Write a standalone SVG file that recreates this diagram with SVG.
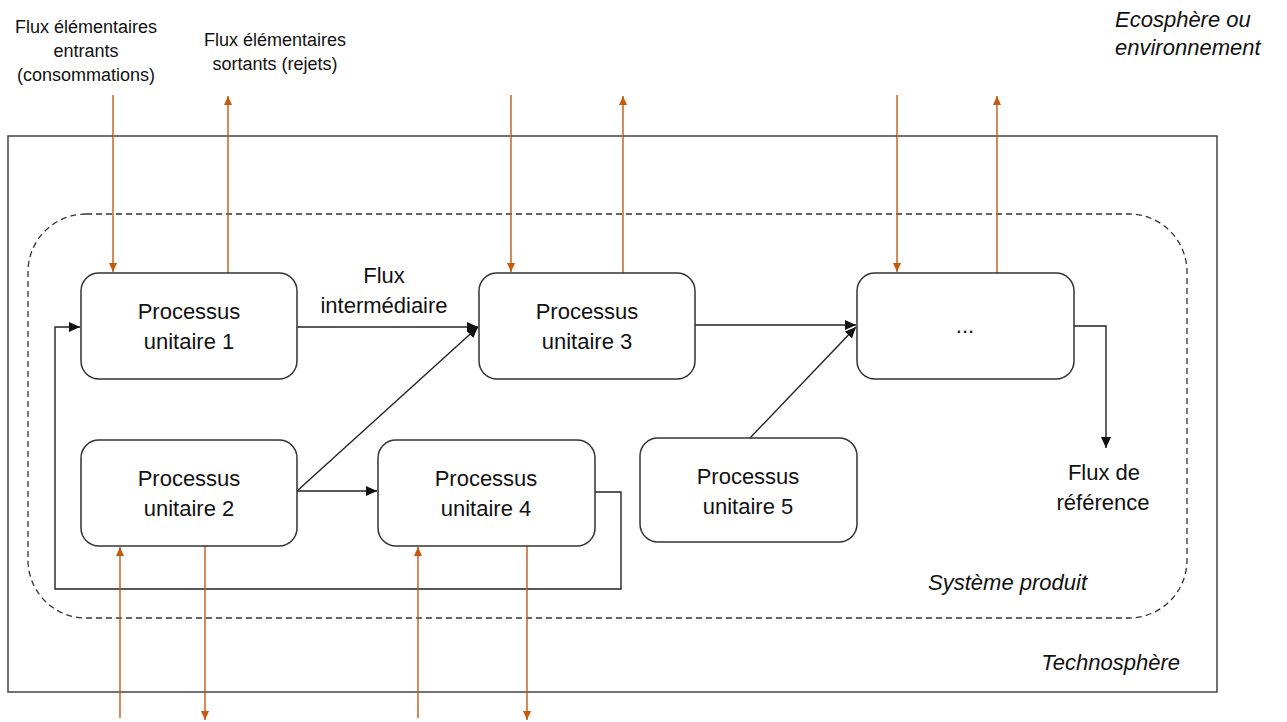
<svg xmlns="http://www.w3.org/2000/svg" width="1287" height="722" viewBox="0 0 1287 722">
<defs>
<style>
.node rect{fill:#fff;stroke:#333;stroke-width:1.5}
.lbl{font-family:"Liberation Sans",Arial,sans-serif;font-size:22px;fill:#111;text-anchor:middle}
.sm{font-family:"Liberation Sans",Arial,sans-serif;font-size:18px;fill:#111;text-anchor:middle}
.it{font-family:"Liberation Sans",Arial,sans-serif;font-size:22px;font-style:italic;fill:#111}
.blk{fill:none;stroke:#222;stroke-width:1.4}
.org{fill:none;stroke:#C55A11;stroke-width:1.4}
</style>
<marker id="ab" markerUnits="userSpaceOnUse" markerWidth="12" markerHeight="10" refX="11" refY="5" orient="auto">
<path d="M0,0 L11,5 L0,10 Z" fill="#111"/>
</marker>
<marker id="ao" markerUnits="userSpaceOnUse" markerWidth="10" markerHeight="8" refX="9" refY="4" orient="auto">
<path d="M0,0 L9,4 L0,8 Z" fill="#C55A11"/>
</marker>
</defs>
<rect width="1287" height="722" fill="#fff"/>
<g id="technosphere">
<rect x="8" y="136" width="1209" height="556" fill="none" stroke="#444" stroke-width="1.5"/>
<text class="it" x="1180" y="670" text-anchor="end">Technosphère</text>
</g>
<g id="systeme-produit">
<rect x="28" y="214" width="1159" height="404" rx="58" ry="58" fill="none" stroke="#333" stroke-width="1.3" stroke-dasharray="6,4"/>
<text class="it" x="1087" y="590" text-anchor="end" font-size="23">Système produit</text>
</g>
<g id="ecosphere">
<text class="it" x="1115" y="27" font-size="23">Ecosphère ou</text>
<text class="it" x="1115" y="55" font-size="23">environnement</text>
</g>
<g id="label-entrants">
<text class="sm" x="86" y="33">Flux élémentaires</text>
<text class="sm" x="86" y="57">entrants</text>
<text class="sm" x="86" y="81">(consommations)</text>
</g>
<g id="label-sortants">
<text class="sm" x="275" y="46">Flux élémentaires</text>
<text class="sm" x="275" y="70">sortants (rejets)</text>
</g>
<g id="connectors">
<path class="blk" d="M297,327 L478,327" marker-end="url(#ab)"/>
<path class="blk" d="M297,491 L478,327" marker-end="url(#ab)"/>
<path class="blk" d="M297,491 L377,491" marker-end="url(#ab)"/>
<path class="blk" d="M695,325 L856,325" marker-end="url(#ab)"/>
<path class="blk" d="M750,438 L856,327" marker-end="url(#ab)"/>
<path class="blk" d="M1074,326 L1106,326 L1106,448" marker-end="url(#ab)"/>
<path class="blk" d="M595,492 L621,492 L621,589 L55,589 L55,327 L80,327" marker-end="url(#ab)"/>
<path class="org" d="M113,95 L113,272" marker-end="url(#ao)"/>
<path class="org" d="M228,273 L228,96" marker-end="url(#ao)"/>
<path class="org" d="M511,95 L511,272" marker-end="url(#ao)"/>
<path class="org" d="M623,273 L623,96" marker-end="url(#ao)"/>
<path class="org" d="M897,95 L897,272" marker-end="url(#ao)"/>
<path class="org" d="M997,273 L997,96" marker-end="url(#ao)"/>
<path class="org" d="M120,718 L120,547" marker-end="url(#ao)"/>
<path class="org" d="M205,546 L205,720" marker-end="url(#ao)"/>
<path class="org" d="M418,718 L418,547" marker-end="url(#ao)"/>
<path class="org" d="M527,546 L527,720" marker-end="url(#ao)"/>
</g>
<g id="flux-intermediaire">
<text class="lbl" x="384" y="283">Flux</text>
<text class="lbl" x="384" y="313">intermédiaire</text>
</g>
<g id="flux-reference">
<text class="lbl" x="1104" y="480">Flux de</text>
<text class="lbl" x="1103" y="510">référence</text>
</g>
<g id="p1" class="node">
<rect x="81" y="273" width="216" height="106" rx="18"/>
<text class="lbl" x="189" y="319">Processus</text>
<text class="lbl" x="189" y="349">unitaire 1</text>
</g>
<g id="p2" class="node">
<rect x="81" y="440" width="216" height="106" rx="18"/>
<text class="lbl" x="189" y="486">Processus</text>
<text class="lbl" x="189" y="516">unitaire 2</text>
</g>
<g id="p3" class="node">
<rect x="479" y="273" width="216" height="106" rx="18"/>
<text class="lbl" x="587" y="319">Processus</text>
<text class="lbl" x="587" y="349">unitaire 3</text>
</g>
<g id="p4" class="node">
<rect x="378" y="440" width="217" height="106" rx="18"/>
<text class="lbl" x="486" y="486">Processus</text>
<text class="lbl" x="486" y="516">unitaire 4</text>
</g>
<g id="p5" class="node">
<rect x="640" y="438" width="217" height="104" rx="18"/>
<text class="lbl" x="748" y="484">Processus</text>
<text class="lbl" x="748" y="514">unitaire 5</text>
</g>
<g id="p6" class="node">
<rect x="857" y="273" width="217" height="106" rx="18"/>
<text class="lbl" x="965" y="333">...</text>
</g>
</svg>
